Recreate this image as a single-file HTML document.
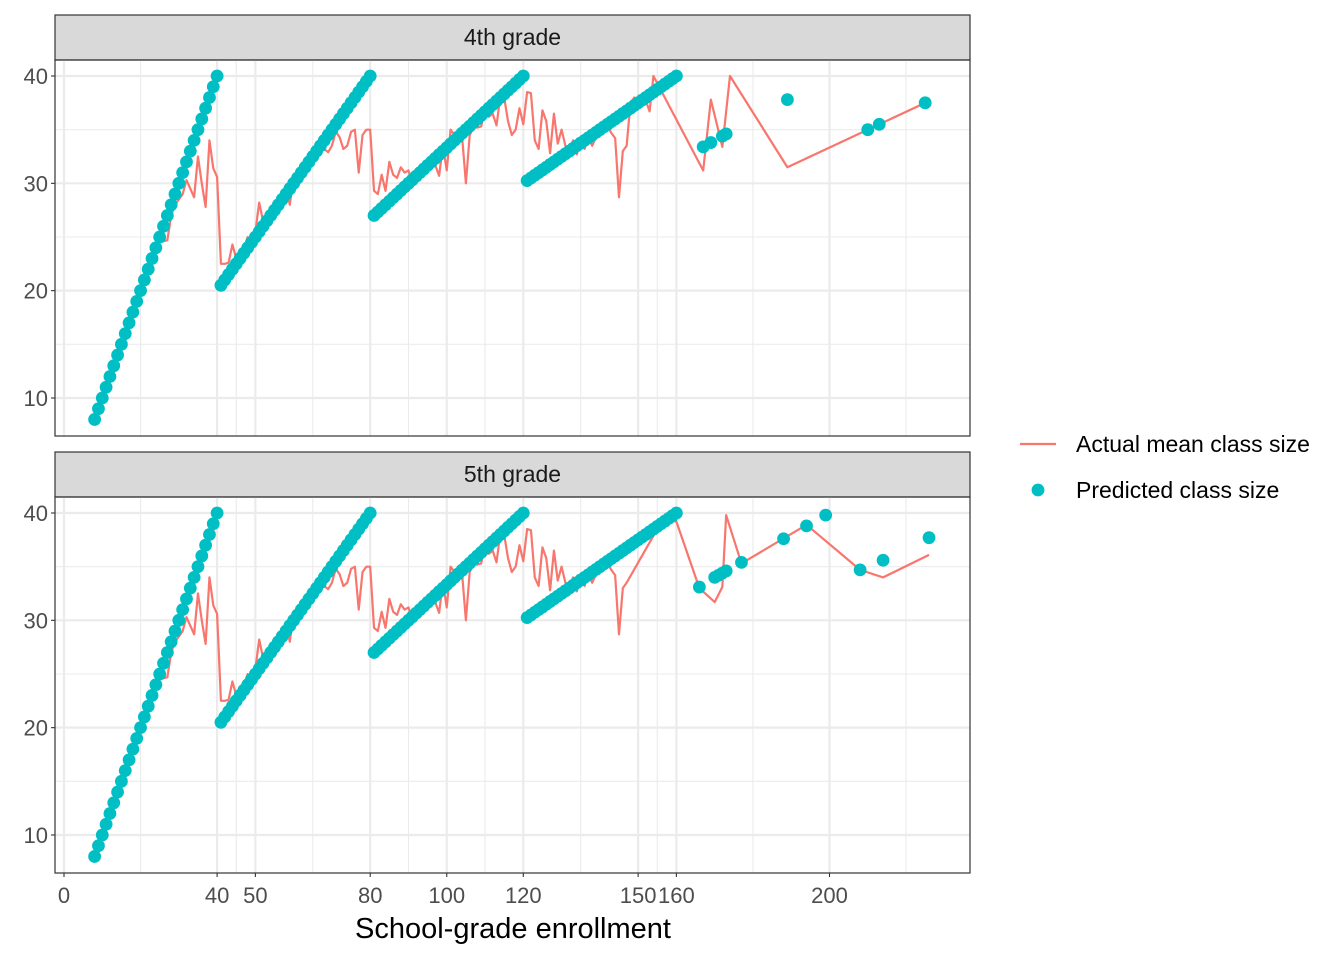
<!DOCTYPE html>
<html><head><meta charset="utf-8"><style>
body{margin:0;background:#fff;}
svg{display:block;font-family:"Liberation Sans",Arial,sans-serif;}
</style></head><body>
<svg id="chart" width="1344" height="960" viewBox="0 0 1344 960"></svg>
<script>
// ---- data ----
const predE = [8,9,10,11,12,13,14,15,16,17,18,19,20,21,22,23,24,25,26,27,28,29,30,31,32,33,34,35,36,37,38,39,40,
41,42,43,44,45,46,47,48,49,50,51,52,53,54,55,56,57,58,59,60,61,62,63,64,65,66,67,68,69,70,71,72,73,74,75,76,77,78,79,80,
81,82,83,84,85,86,87,88,89,90,91,92,93,94,95,96,97,98,99,100,101,102,103,104,105,106,107,108,109,110,111,112,113,114,115,116,117,118,119,120,
121,122,123,124,125,126,127,128,129,130,131,132,133,134,135,136,137,138,139,140,141,142,143,144,145,146,147,148,149,150,151,152,153,154,155,156,157,158,159,160];
const predV = [8,9,10,11,12,13,14,15,16,17,18,19,20,21,22,23,24,25,26,27,28,29,30,31,32,33,34,35,36,37,38,39,40,
20.5,21,21.5,22,22.5,23,23.5,24,24.5,25,25.5,26,26.5,27,27.5,28,28.5,29,29.5,30,30.5,31,31.5,32,32.5,33,33.5,34,34.5,35,35.5,36,36.5,37,37.5,38,38.5,39,39.5,40,
27,27.33,27.67,28,28.33,28.67,29,29.33,29.67,30,30.33,30.67,31,31.33,31.67,32,32.33,32.67,33,33.33,33.67,34,34.33,34.67,35,35.33,35.67,36,36.33,36.67,37,37.33,37.67,38,38.33,38.67,39,39.33,39.67,40,
30.25,30.5,30.75,31,31.25,31.5,31.75,32,32.25,32.5,32.75,33,33.25,33.5,33.75,34,34.25,34.5,34.75,35,35.25,35.5,35.75,36,36.25,36.5,36.75,37,37.25,37.5,37.75,38,38.25,38.5,38.75,39,39.25,39.5,39.75,40];
const predTailE4 = [167,169,172,173,189,210,213,225];
const predTailV4 = [33.4,33.8,34.4,34.6,37.8,35,35.5,37.5];
const predTailE5 = [166,170,171,172,173,177,188,194,199,208,214,226];
const predTailV5 = [33.1,34,34.2,34.4,34.6,35.4,37.6,38.8,39.8,34.7,35.6,37.7];

const actE = [8,9,10,11,12,13,14,15,16,17,18,19,20,21,22,23,24,25,26,27,28,29,30,31,32,33,34,35,36,37,38,39,40,
41,42,43,44,45,46,47,48,49,50,51,52,53,54,55,56,57,58,59,60,61,62,63,64,65,66,67,68,69,70,71,72,73,74,75,76,77,78,79,80,
81,82,83,84,85,86,87,88,89,90,91,92,93,94,95,96,97,98,99,100,101,102,103,104,105,106,107,108,109,110,111,112,113,114,115,116,117,118,119,120,
121,122,123,124,125,126,127,128,129,130,131,132,133,134,135,136,137,138,139,140,141,142,143,144,145,146,147,148,149,150,151,152,153,154];
const actV = [9,9,10,11.5,12,13,14,15,15.8,17,18,19,20,21,22,22.8,24,25,24.6,24.7,27,28,28.5,29,30.3,29.5,28.7,32.5,30,27.8,34,31.4,30.6,
22.5,22.5,22.6,24.3,23,22.7,24,25,24.4,25.5,28.2,26.5,27,26.8,27,27.5,28.5,29.7,28,30.8,31,30.5,31,32.5,33,32.8,32.9,33.2,32.9,33.5,34.8,34.3,33.2,33.5,34.8,35,31,34.5,35,35,
29.3,29,30.8,29.3,32,30.8,30.5,31.5,31,31.2,30,30.5,30.3,31,31.5,32,31.7,30.7,33.5,31.2,35,34.5,34.4,34.4,30,34.5,35.2,35.2,35.3,37,36.2,36.5,35.4,38.1,38,35.8,34.5,35,37,35.5,
38.5,38.4,34,33.2,36.8,35.8,32.8,36.5,33.7,35,33.5,33.2,34,32.7,34,33.2,34.2,33.5,34.3,35,35.8,35.3,34.7,34.2,28.7,33,33.5,37.5,38,37.8,38,37.7,36.7,40];
const actTailE4 = [167,169,172,174,189,225];
const actTailV4 = [31.2,37.8,33.4,40,31.5,37.5];
const actTailE5 = [155,157,160,166,170,172,173,177,194,208,214,226];
const actTailV5 = [38.5,39.4,39.2,33,31.7,33.1,39.8,35.3,38.9,34.7,34,36.1];

const xTicks = [0,40,50,80,100,120,150,160,200];
const xMinor = [20,45,65,90,110,135,155,180,220];
const yTicks = [10,20,30,40];
const yMinor = [15,25,35];

// ---- layout ----
const NS="http://www.w3.org/2000/svg";
const svg=document.getElementById('chart');
const PL=55, PR=970;
const X=v=>64+3.8275*v;
function mk(tag,attrs,parent){const e=document.createElementNS(NS,tag);for(const k in attrs)e.setAttribute(k,attrs[k]);(parent||svg).appendChild(e);return e;}

function panel(label, top, bottom, pE, pV, tE, tV, aE, aV, atE, atV, key){
  const Y=v=>top+16+(40-v)*10.733;
  const g=mk('g',{});
  
  
  mk('rect',{x:PL,y:top-45,width:PR-PL,height:45,fill:'#d9d9d9',stroke:'#333','stroke-width':1.2},g);
  const st=mk('text',{x:(PL+PR)/2,y:top-15,'text-anchor':'middle','font-size':23,fill:'#1a1a1a'},g);
  st.textContent=label;
  
  
  for(const m of xMinor) mk('line',{x1:X(m),x2:X(m),y1:top,y2:bottom,stroke:'#ebebeb','stroke-width':1.1},g);
  for(const m of yMinor) mk('line',{x1:PL,x2:PR,y1:Y(m),y2:Y(m),stroke:'#ebebeb','stroke-width':1.1},g);
  for(const t of xTicks) mk('line',{x1:X(t),x2:X(t),y1:top,y2:bottom,stroke:'#ebebeb','stroke-width':2.2},g);
  for(const t of yTicks){
    mk('line',{x1:PL,x2:PR,y1:Y(t),y2:Y(t),stroke:'#ebebeb','stroke-width':2.2},g);
    mk('line',{x1:PL-4,x2:PL,y1:Y(t),y2:Y(t),stroke:'#333','stroke-width':1.1},g);
    const tl=mk('text',{x:PL-7,y:Y(t)+8,'text-anchor':'end','font-size':22,fill:'#4d4d4d'},g);
    tl.textContent=t;
    
    
  }
  const n=Math.min(aE.length,aV.length);
  const pts=aE.slice(0,n).map((e,i)=>X(e)+','+Y(aV[i])).concat(atE.map((e,i)=>X(e)+','+Y(atV[i])));
  const ln=mk('polyline',{points:pts.join(' '),fill:'none',stroke:'#F8766D','stroke-width':2.2,'stroke-linejoin':'round'},g);
  
  
  const allE=pE.concat(tE), allV=pV.concat(tV);
  allE.forEach((e,i)=>{
    const c=mk('circle',{cx:X(e),cy:Y(allV[i]),r:6.4,fill:'#00BFC4'},g);
    
    
  });
  mk('rect',{x:PL,y:top,width:PR-PL,height:bottom-top,fill:'none',stroke:'#333','stroke-width':1.2},g);
}
panel('4th grade',60,436,predE,predV,predTailE4,predTailV4,actE,actV,actTailE4,actTailV4,'grade4');
panel('5th grade',497,873,predE,predV,predTailE5,predTailV5,actE.slice(0,actE.length-7),actV.slice(0,actV.length-7),actTailE5,actTailV5,'grade5');

for(const t of xTicks){
  mk('line',{x1:X(t),x2:X(t),y1:873,y2:877,stroke:'#333','stroke-width':1.1});
  const tl=mk('text',{x:X(t),y:903,'text-anchor':'middle','font-size':22,fill:'#4d4d4d'});
  tl.textContent=t;
  
  
}
const xt=mk('text',{x:513,y:938,'text-anchor':'middle','font-size':29,fill:'#000'});
xt.textContent='School-grade enrollment';



const lg=mk('g',{});


mk('line',{x1:1020,x2:1056,y1:444,y2:444,stroke:'#F8766D','stroke-width':2.2},lg);
const l1=mk('text',{x:1076,y:452,'font-size':23,fill:'#000'},lg);
l1.textContent='Actual mean class size';


mk('circle',{cx:1038,cy:490,r:6.4,fill:'#00BFC4'},lg);
const l2=mk('text',{x:1076,y:498,'font-size':23,fill:'#000'},lg);
l2.textContent='Predicted class size';


</script>
</body></html>
